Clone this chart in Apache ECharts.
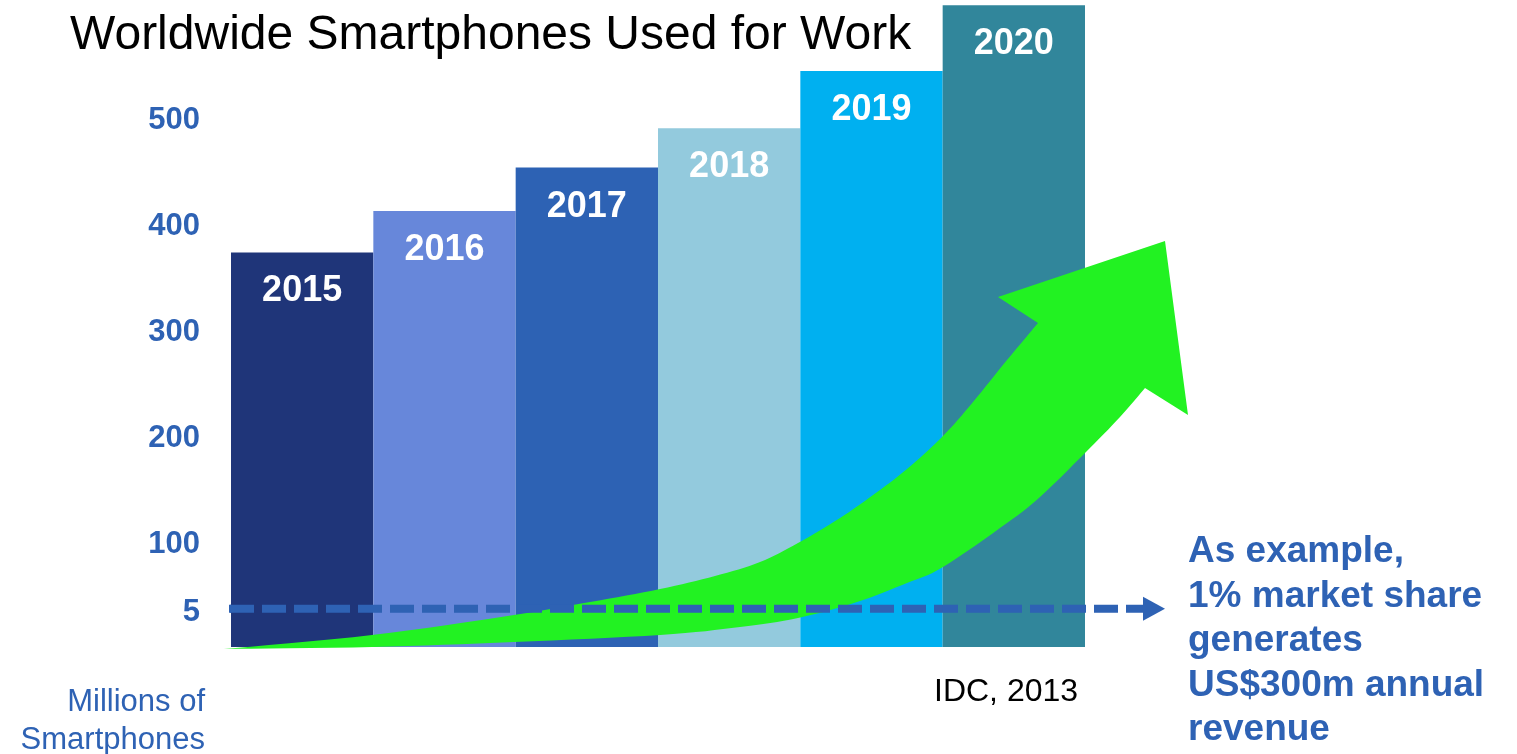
<!DOCTYPE html>
<html>
<head>
<meta charset="utf-8">
<script src="https://cdn.jsdelivr.net/npm/echarts@6/dist/echarts.min.js"></script>
<style>
  html, body { margin: 0; padding: 0; background: #ffffff; }
  #chart { width: 1517px; height: 754px; }
</style>
</head>
<body>
<div id="chart"></div>
<script>
// ---- data ----
const categories = ['2015', '2016', '2017', '2018', '2019', '2020'];
const values = [372, 411, 452, 489, 543, 605];
const barColors = ['#1F3579', '#6787DA', '#2D62B4', '#93CADD', '#00B0F0', '#31869B'];
const yTickLabels = [100, 200, 300, 400, 500];
const refLineValue = 36;        // height of the dashed "5" reference line
const refLineLabel = '5';
const refLineSpan = [0, 1];     // dashed line runs across the annotation grid
const titleText = 'Worldwide Smartphones Used for Work';
const sourceText = 'IDC, 2013';
const axisNameLines = ['Millions of', 'Smartphones'];
const noteLines = ['As example,', '1% market share', 'generates', 'US$300m annual', 'revenue'];

const FONT = '"Liberation Sans", Arial, Helvetica, sans-serif';
const BLUE = '#2E62B4';

// ---- decorative growth arrow outline (pixel sketch, smoothed) ----
const arrowLowerEdge = [[224,649],[372,647],[514,642],[660,635],[740,627],[798,618],[857,602],[907,583],[943,567],[1007,523],[1040,497],[1085,453],[1120,417],[1145,388]];
const arrowHead = [[1188,415],[1165,241],[998,297]];
const arrowUpperEdge = [[1038,323],[1007,360],[973,402],[943,436],[907,469],[873,495],[840,518],[798,543],[760,562],[715,576],[660,589],[590,602],[514,615],[372,635],[224,649]];

function catmull(pts, steps) {
  const out = [];
  for (let i = 0; i < pts.length - 1; i++) {
    const p0 = pts[Math.max(0, i - 1)], p1 = pts[i], p2 = pts[i + 1], p3 = pts[Math.min(pts.length - 1, i + 2)];
    for (let s = 0; s < steps; s++) {
      const t = s / steps, t2 = t * t, t3 = t2 * t;
      out.push([0, 1].map(k => 0.5 * ((2 * p1[k]) + (-p0[k] + p2[k]) * t +
        (2 * p0[k] - 5 * p1[k] + 4 * p2[k] - p3[k]) * t2 +
        (-p0[k] + 3 * p1[k] - 3 * p2[k] + p3[k]) * t3)));
    }
  }
  out.push(pts[pts.length - 1]);
  return out;
}
const arrowPts = [].concat(catmull(arrowLowerEdge, 8), arrowHead, catmull(arrowUpperEdge, 8));

const tickRich = { t: { padding: [8, 0, 0, 0], fontFamily: FONT, fontSize: 31, fontWeight: 'bold', color: BLUE } };

const chart = echarts.init(document.getElementById('chart'));

const option = {
  animation: false,
  backgroundColor: '#ffffff',
  title: {
    text: titleText,
    left: 65,
    top: 7,
    textStyle: { fontFamily: FONT, fontSize: 48, fontWeight: 'normal', color: '#000000', lineHeight: 48 }
  },
  grid: [
    { left: 231, right: 432, top: 0, bottom: 107 },
    { left: 230, right: 363, top: 0, bottom: 107 }
  ],
  xAxis: [
    {
      type: 'category',
      gridIndex: 0,
      data: categories,
      axisLine: { show: false },
      axisTick: { show: false },
      axisLabel: { show: false }
    },
    { type: 'value', gridIndex: 1, min: 0, max: 1, show: false }
  ],
  yAxis: [
    {
      type: 'value',
      gridIndex: 0,
      min: 0,
      max: 610,
      interval: 100,
      axisLine: { show: false },
      axisTick: { show: false },
      splitLine: { show: false },
      axisLabel: {
        margin: 31,
        fontFamily: FONT,
        fontSize: 31,
        fontWeight: 'bold',
        color: BLUE,
        rich: tickRich,
        formatter: v => (yTickLabels.indexOf(v) >= 0 ? '{t|' + v + '}' : '')
      }
    },
    { type: 'value', gridIndex: 1, min: 0, max: 610, show: false }
  ],
  series: [
    {
      type: 'bar',
      xAxisIndex: 0,
      yAxisIndex: 0,
      barCategoryGap: '0%',
      z: 2,
      data: values.map((v, i) => ({ value: v, itemStyle: { color: barColors[i] } })),
      label: {
        show: true,
        position: 'insideTop',
        distance: 21,
        formatter: p => p.name,
        fontFamily: FONT,
        fontSize: 36,
        fontWeight: 'bold',
        color: '#ffffff'
      }
    },
    {
      type: 'line',
      xAxisIndex: 1,
      yAxisIndex: 1,
      z: 20,
      clip: false,
      lineStyle: { color: BLUE, width: 8, type: [24, 8] },
      data: [
        {
          value: [refLineSpan[0], refLineValue],
          symbol: 'rect',
          symbolSize: [2, 8],
          itemStyle: { color: BLUE },
          label: {
            show: true,
            position: 'left',
            distance: 29,
            formatter: '{t|' + refLineLabel + '}',
            rich: tickRich,
            fontFamily: FONT,
            fontSize: 31,
            fontWeight: 'bold',
            color: BLUE
          }
        },
        {
          value: [refLineSpan[1], refLineValue],
          symbol: 'path://M0 0L10 5L0 10Z',
          symbolSize: [22, 24],
          itemStyle: { color: BLUE }
        }
      ]
    }
  ],
  graphic: [
    {
      type: 'polygon',
      z: 10,
      shape: { points: arrowPts },
      style: { fill: '#22F222' }
    },
    {
      type: 'text',
      z: 30,
      style: {
        text: axisNameLines.join('\n'),
        x: 205,
        y: 683,
        textAlign: 'right',
        textVerticalAlign: 'top',
        fontFamily: FONT,
        fontSize: 31,
        lineHeight: 38,
        fill: BLUE
      }
    },
    {
      type: 'text',
      z: 30,
      style: {
        text: sourceText,
        x: 934,
        y: 692,
        textAlign: 'left',
        textVerticalAlign: 'middle',
        fontFamily: FONT,
        fontSize: 32,
        fill: '#000000'
      }
    },
    {
      type: 'text',
      z: 30,
      style: {
        text: noteLines.join('\n'),
        x: 1188,
        y: 530,
        textAlign: 'left',
        textVerticalAlign: 'top',
        fontFamily: FONT,
        fontSize: 37,
        fontWeight: 'bold',
        lineHeight: 44.5,
        fill: BLUE
      }
    }
  ]
};

chart.setOption(option);
</script>
</body>
</html>
